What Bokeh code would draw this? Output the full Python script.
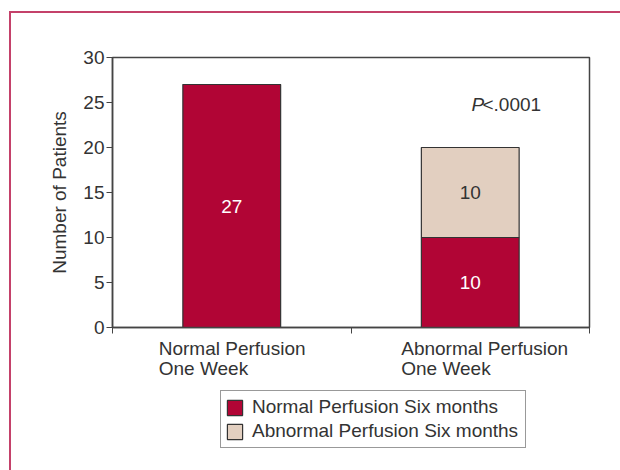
from bokeh.plotting import figure
from bokeh.layouts import column
from bokeh.models import ColumnDataSource, Range1d, FixedTicker, Label
from bokeh.core.properties import value
from bokeh.embed import file_html
from bokeh.resources import INLINE

# ---- data ----
categories = ["Normal Perfusion\nOne Week", "Abnormal Perfusion\nOne Week"]
normal_six = [27, 10]
abnormal_six = [0, 10]
series_names = ["Normal Perfusion Six months", "Abnormal Perfusion Six months"]
y_ticks = [0, 5, 10, 15, 20, 25, 30]
p_text_italic = "P"
p_text_rest = "<.0001"
p_value_pos = (1.505, 24.8)

RED = "#b10535"
BEIGE = "#e2cfc0"
FRAME = "#c4416a"
TXT = "#333333"
AX = "#444444"
FONT = "Liberation Sans"

W = 609
xs = [i + 0.5 for i in range(len(categories))]
src = ColumnDataSource(dict(x=xs, normal=normal_six, abnormal=abnormal_six))
xr = Range1d(0, len(categories))

# ---- main chart ----
p = figure(width=W, height=324, x_range=xr, y_range=Range1d(0, 30),
           output_backend="svg", toolbar_location=None,
           min_border_left=101, min_border_right=31, min_border_top=44, min_border_bottom=10)
p.background_fill_color = "white"
p.border_fill_color = "white"
p.outline_line_color = AX
p.outline_line_width = 1.5
p.xgrid.visible = False
p.ygrid.visible = False

bars = p.vbar_stack(["normal", "abnormal"], x="x", width=0.41, color=[RED, BEIGE],
                    line_color="#333333", line_width=1.2, source=src)

# value labels inside bars
lab_x, lab_y, lab_t, lab_c = [], [], [], []
for i, x in enumerate(xs):
    bottom = 0
    for vals, col in ((normal_six, "white"), (abnormal_six, TXT)):
        v = vals[i]
        if v > 0:
            lab_x.append(x); lab_y.append(bottom + v / 2); lab_t.append(str(v)); lab_c.append(col)
        bottom += v
p.text(x=lab_x, y=lab_y, text=lab_t, text_color=lab_c, text_align="center", text_baseline="middle",
       text_font=value(FONT), text_font_size="19px")

ya = p.yaxis[0]
ya.ticker = FixedTicker(ticks=y_ticks)
ya.axis_label = "Number of Patients"
ya.axis_label_text_font = FONT
ya.axis_label_text_font_size = "19px"
ya.axis_label_text_font_style = "normal"
ya.axis_label_text_color = TXT
ya.axis_label_standoff = 10
ya.major_label_text_font = FONT
ya.major_label_text_font_size = "19px"
ya.major_label_text_color = TXT
ya.major_label_standoff = 2
ya.major_tick_out = 6
ya.major_tick_in = 0
ya.minor_tick_line_color = None
ya.axis_line_color = AX
ya.axis_line_width = 1.5
ya.major_tick_line_color = AX

xa = p.xaxis[0]
xa.ticker = FixedTicker(ticks=list(range(len(categories) + 1)))
xa.major_label_overrides = {t: "" for t in range(len(categories) + 1)}
xa.major_label_text_font_size = "1px"
xa.major_tick_out = 6
xa.major_tick_in = 0
xa.minor_tick_line_color = None
xa.axis_line_color = AX
xa.axis_line_width = 1.5
xa.major_tick_line_color = AX

p.add_layout(Label(x=p_value_pos[0], y=p_value_pos[1], text=p_text_italic, text_font=FONT,
                   text_font_size="19px", text_font_style="italic", text_color=TXT,
                   text_baseline="middle", text_align="left"))
p.add_layout(Label(x=p_value_pos[0], y=p_value_pos[1], x_offset=11, text=p_text_rest, text_font=FONT,
                   text_font_size="19px", text_color=TXT, text_baseline="middle", text_align="left"))

# ---- lower strip: category labels and legend ----
p2 = figure(width=W, height=133, x_range=xr, y_range=Range1d(0, 1),
            output_backend="svg", toolbar_location=None,
            min_border_left=101, min_border_right=31, min_border_top=0, min_border_bottom=0)
p2.axis.visible = False
p2.grid.visible = False
p2.outline_line_color = None
p2.background_fill_color = "white"
p2.border_fill_color = "white"

cat_offsets = [-73, -69]
p2.text(x=xs, y=[1] * len(xs), text=categories, x_offset=cat_offsets, y_offset=0,
        text_align="left", text_baseline="top", text_font=value(FONT), text_font_size="19px",
        text_color=TXT, text_line_height=0.97)

# legend entries: hidden copies of the stacked bars (same data)
legend_bars = p2.vbar_stack(["normal", "abnormal"], x="x", width=0.41, color=[RED, BEIGE],
                            line_color="#333333", line_width=1.2, source=src,
                            legend_label=series_names)
for r in legend_bars:
    r.visible = False

lg = p2.legend[0]
lg.location = (108, 22)
lg.label_text_font = FONT
lg.label_text_font_size = "19px"
lg.label_text_color = TXT
lg.glyph_width = 19
lg.glyph_height = 19
lg.label_height = 24
lg.label_standoff = 8
lg.label_width = 269
lg.padding = 4
lg.spacing = 0
lg.margin = 0
lg.border_line_color = "#333333"
lg.border_line_width = 1.5
lg.background_fill_color = "white"
lg.background_fill_alpha = 1
lg.inactive_fill_alpha = 0
lg.click_policy = "none"

root = column(p, p2, spacing=0)
root.styles = {"margin-left": "9px", "margin-top": "11px",
               "border-top": f"2px solid {FRAME}", "border-left": f"2px solid {FRAME}"}

open("out.html", "w").write(file_html(root, INLINE))
